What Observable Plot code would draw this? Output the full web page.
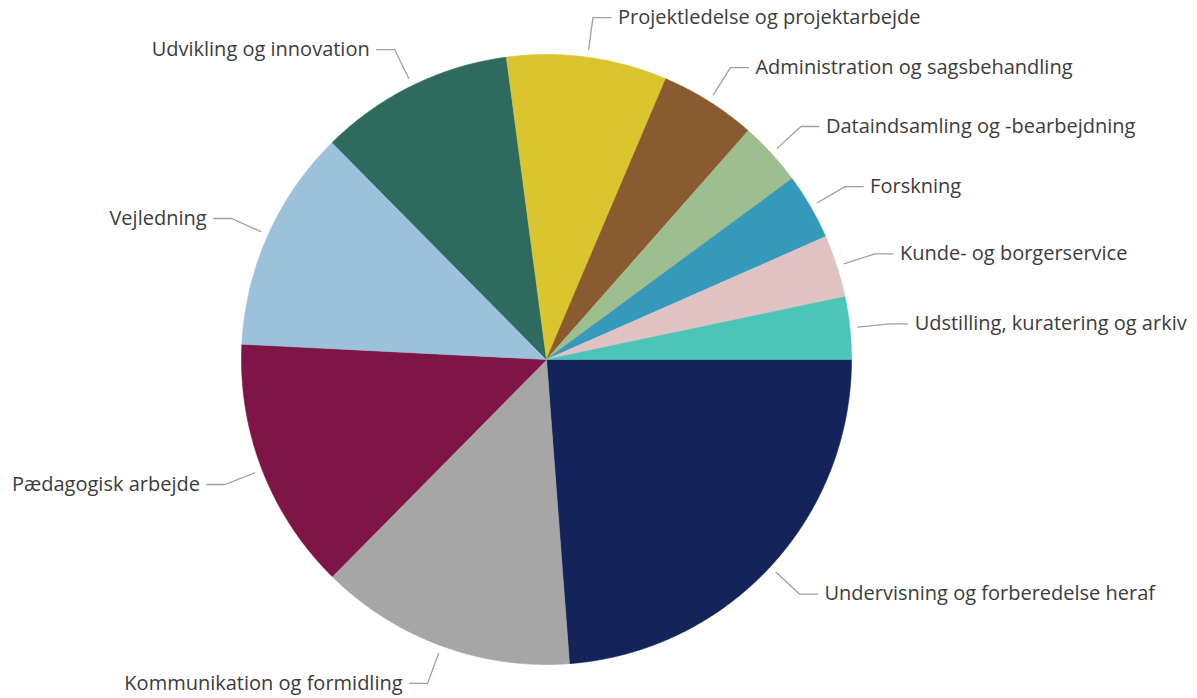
<!DOCTYPE html>
<html>
<head>
<meta charset="utf-8">
<script src="https://cdn.jsdelivr.net/npm/d3@7"></script>
<script src="https://cdn.jsdelivr.net/npm/@observablehq/plot@0.6"></script>
<style>
  html, body { margin: 0; padding: 0; background: #ffffff; }
  #chart { width: 1197px; height: 698px; }
</style>
</head>
<body>
<div id="chart"></div>
<script>
// ---- Data (shares in %) ----
const categories = [
  "Undervisning og forberedelse heraf",
  "Kommunikation og formidling",
  "Pædagogisk arbejde",
  "Vejledning",
  "Udvikling og innovation",
  "Projektledelse og projektarbejde",
  "Administration og sagsbehandling",
  "Dataindsamling og -bearbejdning",
  "Forskning",
  "Kunde- og borgerservice",
  "Udstilling, kuratering og arkiv"
];
const values = [23.8, 13.6, 13.4, 11.8, 10.3, 8.5, 5.1, 3.4, 3.5, 3.3, 3.3];
const colors = [
  "#14245a", "#a6a6a6", "#7f1446", "#9bc1db", "#2e6b5e", "#dbc52e",
  "#8a5a31", "#9dbe8e", "#3499bb", "#e0c2c3", "#4cc5b9"
];

// ---- Layout ----
const W = 1197, H = 698;
const R = 305;             // pie radius in px
const cx = 546, cy = 359;  // pie centre in px
const px = 1 / R;          // one pixel in unit-radius coordinates

const table = categories.map((c, i) => ({key: c, value: values[i]}));

// d3 angles: 0 at 12 o'clock, clockwise. Start at 3 o'clock.
const arcs = d3.pie().sort(null).value(d => d.value)
  .startAngle(Math.PI / 2).endAngle(Math.PI / 2 + 2 * Math.PI)(table);

const pt = (a, r) => ({x: r * Math.sin(a), y: r * Math.cos(a)});

// slice polygons
const slicePts = [];
for (const a of arcs) {
  const key = a.data.key;
  slicePts.push({key, ...pt(0, 0)});
  const n = Math.max(2, Math.ceil((a.endAngle - a.startAngle) / (Math.PI / 360)));
  for (let k = 0; k <= n; k++) {
    const t = a.startAngle + (a.endAngle - a.startAngle) * k / n;
    slicePts.push({key, ...pt(t, 1)});
  }
  slicePts.push({key, ...pt(0, 0)});
}

// leader lines and labels
const leaderPts = [];
const labels = [];
for (const a of arcs) {
  const key = a.data.key;
  const mid = (a.startAngle + a.endAngle) / 2;
  const p0 = pt(mid, 1 + 8 * px);
  const p1 = pt(mid, 1 + 40 * px);
  const right = p1.x >= 0;
  const p2 = {x: p1.x + (right ? 18 : -18) * px, y: p1.y};
  leaderPts.push({key, ...p0}, {key, ...p1}, {key, ...p2});
  labels.push({key, right, x: p2.x + (right ? 7 : -7) * px, y: p2.y});
}

const font = "'Open Sans', 'Noto Sans', sans-serif";

const chart = Plot.plot({
  width: W,
  height: H,
  margin: 0,
  style: {background: "#ffffff", fontFamily: font},
  x: {domain: [-cx / R, (W - cx) / R], range: [0, W], axis: null},
  y: {domain: [-(H - cy) / R, cy / R], range: [H, 0], axis: null},
  color: {domain: categories, range: colors},
  marks: [
    Plot.line(slicePts, {x: "x", y: "y", z: "key", fill: "key", stroke: "key", strokeWidth: 0.6, curve: "linear"}),
    Plot.line(leaderPts, {x: "x", y: "y", z: "key", stroke: "#a0a0a0", strokeWidth: 1.3, curve: "linear"}),
    Plot.text(labels.filter(d => d.right), {x: "x", y: "y", text: "key", textAnchor: "start", fontSize: 20, fill: "#3c3c3c", fontFamily: font}),
    Plot.text(labels.filter(d => !d.right), {x: "x", y: "y", text: "key", textAnchor: "end", fontSize: 20, fill: "#3c3c3c", fontFamily: font})
  ]
});

document.getElementById("chart").appendChild(chart);
</script>
</body>
</html>
